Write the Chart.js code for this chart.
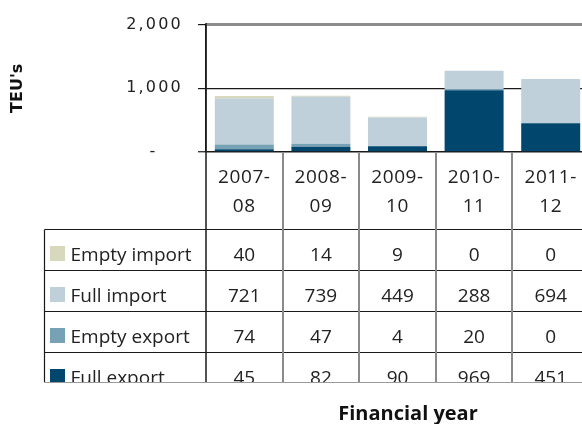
<!DOCTYPE html>
<html>
<head>
<meta charset="utf-8">
<script src="https://cdn.jsdelivr.net/npm/chart.js@4/dist/chart.umd.min.js"></script>
<style>
  html, body { margin: 0; padding: 0; background: #fff; overflow: hidden; width: 582px; height: 424px; }
  #wrap { width: 600px; height: 424px; }
</style>
</head>
<body>
<div id="wrap"><canvas id="c" width="600" height="424"></canvas></div>
<script>
// ---- data ----
const categories = ['2007-08', '2008-09', '2009-10', '2010-11', '2011-12'];
const fullExport  = [45, 82, 90, 969, 451];
const emptyExport = [74, 47, 4, 20, 0];
const fullImport  = [721, 739, 449, 288, 694];
const emptyImport = [40, 14, 9, 0, 0];
const yTicks = [0, 1000, 2000];
const yTitle = "TEU's";
const xTitle = 'Financial year';

const colors = {
  fullExport: '#00466d',
  emptyExport: '#77a1b5',
  fullImport: '#bfd0da',
  emptyImport: '#d8d8bd'
};

const datasets = [
  { label: 'Full export',  data: fullExport,  backgroundColor: colors.fullExport },
  { label: 'Empty export', data: emptyExport, backgroundColor: colors.emptyExport },
  { label: 'Full import',  data: fullImport,  backgroundColor: colors.fullImport },
  { label: 'Empty import', data: emptyImport, backgroundColor: colors.emptyImport }
];
// table rows, top to bottom
const tableRows = [3, 2, 1, 0];
const yMax = yTicks[yTicks.length - 1];

const spacingPlugin = {
  id: 'spacing',
  beforeDraw(chart) { chart.ctx.letterSpacing = '2.2px'; }
};

const tablePlugin = {
  id: 'dataTable',
  afterDraw(chart) {
    const ctx = chart.ctx;
    ctx.letterSpacing = '0px';
    const xs = chart.scales.x;
    const ys = chart.scales.y;
    const area = chart.chartArea;
    const W = chart.width;
    const n = categories.length;
    const colW = (area.right - area.left) / n;
    const headTop = area.bottom;
    const headBottom = area.bottom + 77.5;
    const rowH = 41;
    const clipY = 382.5;
    const tableLeft = 44.5;

    // top gridline (max value)
    ctx.save();
    ctx.strokeStyle = '#8c8c8c';
    ctx.lineWidth = 3;
    const yTop = ys.getPixelForValue(yMax);
    ctx.beginPath(); ctx.moveTo(area.left, yTop); ctx.lineTo(W, yTop); ctx.stroke();
    ctx.strokeStyle = '#1a1a1a';
    ctx.lineWidth = 1.5;
    ctx.beginPath(); ctx.moveTo(area.left, yTop - 1.5); ctx.lineTo(area.left, area.bottom); ctx.stroke();
    ctx.restore();

    ctx.save();
    ctx.beginPath();
    ctx.rect(0, 0, W, clipY);
    ctx.clip();

    ctx.fillStyle = '#222';
    ctx.textAlign = 'center';
    ctx.textBaseline = 'alphabetic';
    ctx.font = '19px "Open Sans"';
    categories.forEach((c, i) => {
      const cx = xs.getPixelForValue(i);
      const parts = c.split('-');
      ctx.letterSpacing = '0.6px';
      ctx.fillText(parts[0] + '-', cx, headTop + 31);
      ctx.fillText(parts[1], cx, headTop + 60);
    });
    ctx.letterSpacing = '0px';
    tableRows.forEach((di, r) => {
      const ds = datasets[di];
      const top = headBottom + r * rowH;
      ctx.fillStyle = ds.backgroundColor;
      ctx.fillRect(50, top + 16.5, 15, 15);
      ctx.fillStyle = '#222';
      ctx.textAlign = 'left';
      ctx.fillText(ds.label, 70.5, top + 31);
      ctx.textAlign = 'center';
      ds.data.forEach((v, i) => {
        ctx.fillText(String(v), xs.getPixelForValue(i), top + 31);
      });
    });

    ctx.strokeStyle = '#1a1a1a';
    ctx.lineWidth = 1.2;
    for (let r = 0; r < tableRows.length; r++) {
      const y = headBottom + r * rowH;
      ctx.beginPath(); ctx.moveTo(tableLeft, y); ctx.lineTo(W, y); ctx.stroke();
    }
    ctx.beginPath(); ctx.moveTo(tableLeft, headBottom); ctx.lineTo(tableLeft, clipY); ctx.stroke();
    ctx.lineWidth = 1.5;
    ctx.beginPath(); ctx.moveTo(area.left, headTop); ctx.lineTo(area.left, clipY); ctx.stroke();
    ctx.strokeStyle = '#8a8a8a';
    ctx.lineWidth = 2;
    for (let i = 1; i <= n; i++) {
      const x = Math.round(xs.getPixelForValue(i - 1) + colW / 2);
      ctx.beginPath(); ctx.moveTo(x, headTop + 1); ctx.lineTo(x, clipY); ctx.stroke();
    }
    ctx.restore();

    ctx.save();
    ctx.strokeStyle = '#9a9a9a';
    ctx.lineWidth = 1;
    ctx.beginPath(); ctx.moveTo(tableLeft, clipY); ctx.lineTo(W, clipY); ctx.stroke();

    ctx.fillStyle = '#111';
    ctx.textAlign = 'center';
    ctx.textBaseline = 'middle';
    ctx.font = 'bold 16px "DejaVu Sans"';
    ctx.translate(18, (area.top + area.bottom) / 2);
    ctx.rotate(-Math.PI / 2);
    ctx.fillText(yTitle, 0, 0);
    ctx.restore();

    ctx.save();
    ctx.fillStyle = '#111';
    ctx.textAlign = 'center';
    ctx.textBaseline = 'alphabetic';
    ctx.font = 'bold 20px "Open Sans"';
    ctx.fillText(xTitle, 408, 420);
    ctx.restore();
  }
};

new Chart(document.getElementById('c'), {
  type: 'bar',
  data: { labels: categories, datasets: datasets },
  plugins: [spacingPlugin, tablePlugin],
  options: {
    responsive: false,
    animation: false,
    devicePixelRatio: 1,
    layout: { padding: { top: 22, right: 11, bottom: 272, left: 0 } },
    datasets: { bar: { categoryPercentage: 1.0, barPercentage: 0.77, borderWidth: 0 } },
    plugins: { legend: { display: false }, tooltip: { enabled: false }, title: { display: false } },
    scales: {
      x: { display: false, stacked: true },
      y: {
        stacked: true,
        min: 0, max: yMax,
        afterFit(scale) { scale.width = 206; },
        afterBuildTicks(scale) { scale.ticks = yTicks.map(v => ({ value: v })); },
        ticks: {
          padding: 15,
          color: '#222',
          font: { family: '"DejaVu Sans"', size: 16 },
          callback: v => v === 0 ? '-   \u200A' : v.toLocaleString('en-US')
        },
        grid: {
          color: c => c.tick && c.tick.value === yMax ? 'rgba(0,0,0,0)' : '#1a1a1a',
          lineWidth: c => c.tick && c.tick.value === 0 ? 1.5 : 1.2,
          tickColor: '#1a1a1a',
          tickLength: 8,
          tickWidth: 1.2
        },
        border: { color: '#1a1a1a', width: 1.5 }
      }
    }
  }
});
</script>
</body>
</html>
